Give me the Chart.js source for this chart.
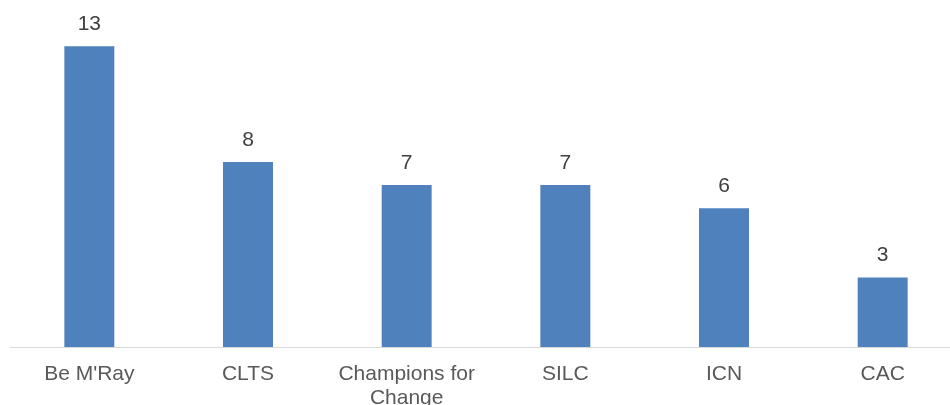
<!DOCTYPE html>
<html>
<head>
<meta charset="utf-8">
<script src="https://cdn.jsdelivr.net/npm/chart.js@4"></script>
<style>
  html, body { margin: 0; padding: 0; background: #fff; overflow: hidden; }
  #clip { width: 950px; height: 405px; overflow: hidden; }
  #wrap { width: 962px; height: 405px; }
</style>
</head>
<body>
<div id="clip"><div id="wrap"><canvas id="myChart"></canvas></div></div>
<script>
var programmes = ['Be M\'Ray', 'CLTS', ['Champions for', 'Change'], 'SILC', 'ICN', 'CAC'];
var counts = [13, 8, 7, 7, 6, 3];

// writes the count above each bar
var valueLabels = {
    id: 'valueLabels',
    afterDatasetsDraw: function(chart) {
        var ctx = chart.ctx;
        var meta = chart.getDatasetMeta(0);
        ctx.save();
        ctx.font = '21px "Liberation Sans", Arial, sans-serif';
        ctx.fillStyle = '#404040';
        ctx.textAlign = 'center';
        ctx.textBaseline = 'middle';
        meta.data.forEach(function(bar, i) {
            ctx.fillText(String(counts[i]), bar.x, bar.y - 22);
        });
        ctx.restore();
    }
};

var ctx = document.getElementById('myChart').getContext('2d');
var chart = new Chart(ctx, {
    type: 'bar',
    data: {
        labels: programmes,
        datasets: [{
            data: counts,
            backgroundColor: '#4f81bd',
            borderWidth: 0,
            barPercentage: 0.315,
            categoryPercentage: 1
        }]
    },
    options: {
        responsive: true,
        maintainAspectRatio: false,
        animation: false,
        layout: { padding: { left: 10, right: 0, top: 0, bottom: 0 } },
        plugins: {
            legend: { display: false },
            tooltip: { enabled: false }
        },
        scales: {
            y: {
                display: false,
                min: 0,
                max: 15
            },
            x: {
                grid: { display: false, drawTicks: false },
                border: { display: true, color: '#d9d9d9', width: 1 },
                ticks: {
                    color: '#595959',
                    font: { family: '"Liberation Sans", Arial, sans-serif', size: 21, lineHeight: 1.15 },
                    padding: 15,
                    autoSkip: false,
                    maxRotation: 0
                },
                afterFit: function(scale) {
                    scale.height = 58;
                }
            }
        }
    },
    plugins: [valueLabels]
});
</script>
</body>
</html>
